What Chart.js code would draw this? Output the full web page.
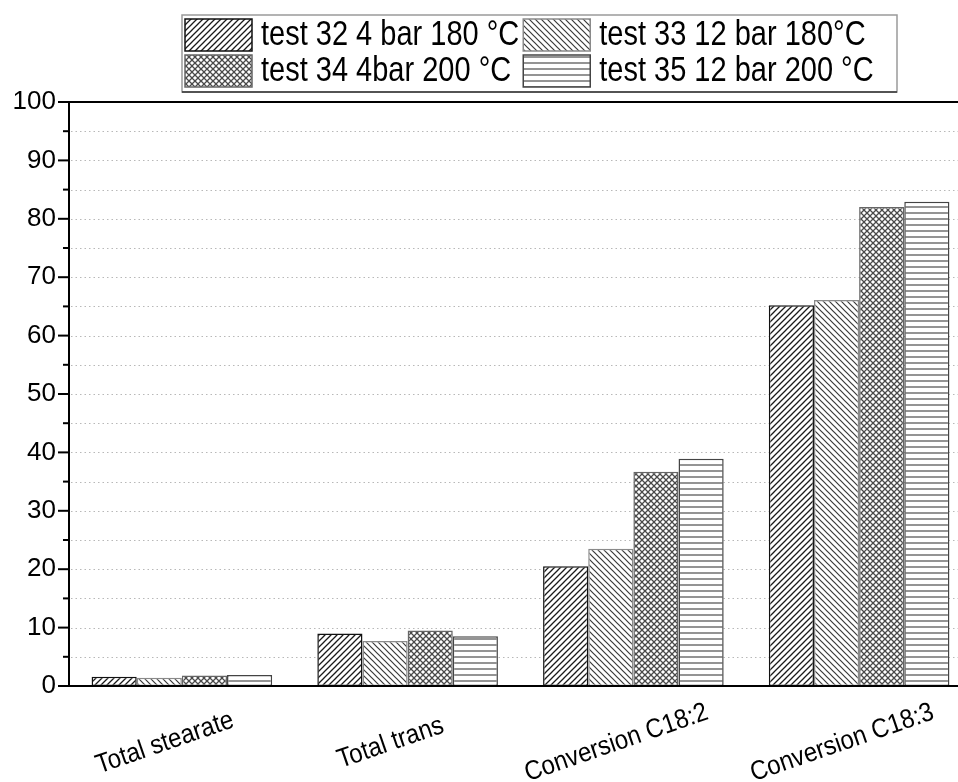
<!DOCTYPE html>
<html>
<head>
<meta charset="utf-8">
<script src="https://cdn.jsdelivr.net/npm/chart.js@4.4.1/dist/chart.umd.min.js"></script>
<style>
  html, body { margin: 0; padding: 0; background: #fff; overflow: hidden; }
  #wrap { width: 972px; height: 782px; }
</style>
</head>
<body>
<div id="wrap"><canvas id="c" width="972" height="782"></canvas></div>
<script>
// ---- data ----
const categories = ['Total stearate', 'Total trans', 'Conversion C18:2', 'Conversion C18:3'];
const seriesLabels = ['test 32 4 bar 180 °C', 'test 33 12 bar 180°C', 'test 34 4bar 200 °C', 'test 35 12 bar 200 °C'];
const test32 = [1.6, 9.0, 20.5, 65.2];
const test33 = [1.4, 7.7, 23.5, 66.1];
const test34 = [1.8, 9.5, 36.7, 82.0];
const test35 = [1.9, 8.5, 38.9, 82.9];
const yMin = 0, yMax = 100, yStep = 5, yLabelStep = 10;

const FONT = '"Liberation Sans", Arial, sans-serif';

function makePattern(kind) {
  const s = 6;
  const c = document.createElement('canvas');
  c.width = s; c.height = s;
  const g = c.getContext('2d');
  g.fillStyle = '#ffffff';
  g.fillRect(0, 0, s, s);
  g.lineCap = 'square';
  function fwd() {
    g.beginPath();
    g.moveTo(-1, s + 1); g.lineTo(s + 1, -1);
    g.moveTo(-1, 1); g.lineTo(1, -1);
    g.moveTo(s - 1, s + 1); g.lineTo(s + 1, s - 1);
    g.stroke();
  }
  function back() {
    g.beginPath();
    g.moveTo(-1, -1); g.lineTo(s + 1, s + 1);
    g.moveTo(s - 1, -1); g.lineTo(s + 1, 1);
    g.moveTo(-1, s - 1); g.lineTo(1, s + 1);
    g.stroke();
  }
  if (kind === 'fwd') { g.strokeStyle = '#1a1a1a'; g.lineWidth = 1.3; fwd(); }
  if (kind === 'back') { g.strokeStyle = '#3a3a3a'; g.lineWidth = 1.2; back(); }
  if (kind === 'cross') { g.strokeStyle = '#4a4a4a'; g.lineWidth = 1.3; fwd(); back(); }
  if (kind === 'horiz') {
    g.strokeStyle = '#5a5a5a'; g.lineWidth = 1.3;
    g.beginPath(); g.moveTo(0, 3); g.lineTo(s, 3); g.stroke();
  }
  return document.getElementById('c').getContext('2d').createPattern(c, 'repeat');
}

const patterns = [makePattern('fwd'), makePattern('back'), makePattern('cross'), makePattern('horiz')];
const borders = ['#111', '#8a8a8a', '#666', '#444'];
const seriesData = [test32, test33, test34, test35];

const framePlugin = {
  id: 'frame',
  beforeDatasetsDraw(chart) {
    const ctx = chart.ctx, a = chart.chartArea, y = chart.scales.y;
    ctx.save();
    ctx.strokeStyle = '#b8b8b8';
    ctx.lineWidth = 1;
    ctx.setLineDash([1.5, 3]);
    for (let v = yMin + yStep; v < yMax; v += yStep) {
      const py = Math.round(y.getPixelForValue(v)) + 0.5;
      ctx.beginPath(); ctx.moveTo(a.left + 2, py); ctx.lineTo(a.right, py); ctx.stroke();
    }
    ctx.setLineDash([]);
    ctx.restore();
  },
  afterDatasetsDraw(chart) {
    const ctx = chart.ctx, a = chart.chartArea, y = chart.scales.y;
    ctx.save();
    ctx.strokeStyle = '#000';
    ctx.lineWidth = 2;
    for (let v = yMin; v <= yMax; v += yStep) {
      const py = y.getPixelForValue(v);
      const len = (v % yLabelStep === 0) ? 11 : 6;
      ctx.beginPath(); ctx.moveTo(a.left - len, py); ctx.lineTo(a.left, py); ctx.stroke();
    }
    const pt = y.getPixelForValue(yMax);
    ctx.beginPath(); ctx.moveTo(a.left - 1, pt); ctx.lineTo(a.right, pt); ctx.stroke();
    const pb = y.getPixelForValue(yMin);
    ctx.beginPath(); ctx.moveTo(a.left - 11, pb); ctx.lineTo(a.right, pb); ctx.stroke();
    ctx.beginPath(); ctx.moveTo(a.left, pt - 1); ctx.lineTo(a.left, pb + 1); ctx.stroke();

    // x category labels (rotated)
    const x = chart.scales.x;
    ctx.fillStyle = '#000';
    ctx.font = '24px ' + FONT;
    ctx.textAlign = 'center';
    ctx.textBaseline = 'middle';
    categories.forEach((lab, i) => {
      const px = x.getPixelForValue(i);
      ctx.save();
      ctx.translate(px - 17, 743);
      ctx.rotate(-19 * Math.PI / 180);
      ctx.scale(1, 1.12);
      ctx.fillText(lab, 0, 0);
      ctx.restore();
    });

    // legend
    const bx = 182, by = 15, bw = 715, bh = 77;
    ctx.fillStyle = '#fff';
    ctx.fillRect(bx, by, bw, bh);
    ctx.lineWidth = 1.5;
    ctx.strokeStyle = '#9a9a9a';
    ctx.strokeRect(bx, by, bw, bh);
    ctx.strokeStyle = '#333';
    ctx.beginPath(); ctx.moveTo(bx, by + bh); ctx.lineTo(bx + bw, by + bh); ctx.stroke();
    ctx.font = '29px ' + FONT;
    ctx.textAlign = 'left';
    ctx.textBaseline = 'middle';
    const sw = 67, sh = 32;
    const col1w = Math.max(ctx.measureText(seriesLabels[0]).width, ctx.measureText(seriesLabels[2]).width);
    const colX = [bx + 3, bx + 3 + sw + 10 + col1w + 3];
    const rowY = [by + 4, by + 40];
    for (let k = 0; k < 4; k++) {
      const cx = colX[k % 2], cy = rowY[Math.floor(k / 2)];
      ctx.fillStyle = patterns[k];
      ctx.fillRect(cx, cy, sw, sh);
      ctx.lineWidth = 1.5;
      ctx.strokeStyle = borders[k];
      ctx.strokeRect(cx, cy, sw, sh);
      ctx.fillStyle = '#000';
      ctx.save();
      ctx.translate(cx + sw + 9, cy + sh / 2 + 1);
      ctx.scale(1, 1.18);
      ctx.fillText(seriesLabels[k], 0, 0);
      ctx.restore();
    }
    ctx.restore();
  }
};

new Chart(document.getElementById('c'), {
  type: 'bar',
  data: {
    labels: categories,
    datasets: seriesLabels.map((lab, k) => ({
      label: lab,
      data: seriesData[k],
      backgroundColor: patterns[k],
      borderColor: borders[k],
      borderWidth: 1.5,
      borderSkipped: false,
      categoryPercentage: 0.8,
      barPercentage: 1.0
    }))
  },
  options: {
    responsive: false,
    animation: false,
    layout: { padding: { top: 102, bottom: 88, left: 0, right: 0 } },
    plugins: { legend: { display: false }, tooltip: { enabled: false } },
    scales: {
      x: {
        grid: { display: false },
        border: { display: false },
        ticks: { display: false }
      },
      y: {
        min: yMin, max: yMax,
        afterFit(scale) { scale.width = 69; },
        grid: { display: false },
        border: { display: false },
        ticks: {
          stepSize: yStep,
          padding: 5,
          color: '#000',
          font: { family: FONT, size: 26 },
          callback: (v) => (v % yLabelStep === 0 ? String(v) : '')
        }
      }
    }
  },
  plugins: [framePlugin]
});
</script>
</body>
</html>
